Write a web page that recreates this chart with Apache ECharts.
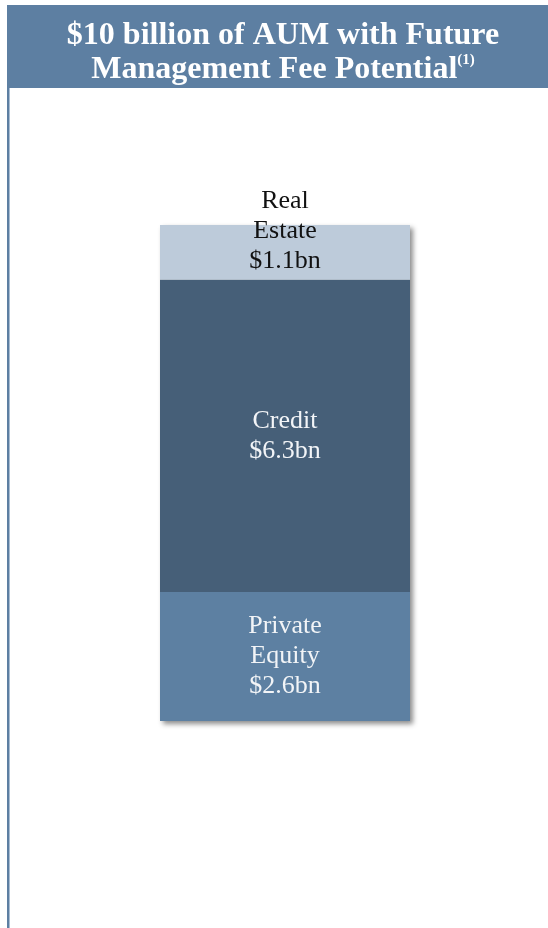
<!DOCTYPE html>
<html>
<head>
<meta charset="utf-8">
<script src="https://cdn.jsdelivr.net/npm/echarts@6/dist/echarts.min.js"></script>
<style>
  html, body { margin: 0; padding: 0; background: #ffffff; }
  #chart { width: 548px; height: 928px; }
</style>
</head>
<body>
<div id="chart"></div>
<script>
// AUM by strategy, $bn
const categories = ['AUM'];
const segmentNames = ['Private\nEquity', 'Credit', 'Real\nEstate'];
const segmentValues = [2.6, 6.3, 1.1];
const segmentColors = ['#5d80a2', '#465f78', '#bdcbda'];
const labelColors = ['#f2f4f7', '#f2f4f7', '#111111'];

const total = segmentValues.reduce((a, b) => a + b, 0);

const chart = echarts.init(document.getElementById('chart'), null, { renderer: 'canvas' });

const serif = '"Liberation Serif", "DejaVu Serif", serif';

const stackSeries = segmentValues.map((v, i) => ({
  type: 'bar',
  name: segmentNames[i],
  stack: 'aum',
  barWidth: '100%',
  barGap: '-100%',
  z: 3,
  data: [v],
  itemStyle: { color: segmentColors[i] },
  label: {
    show: true,
    position: i === 2 ? 'insideBottom' : 'inside',
    distance: 3,
    formatter: () => segmentNames[i] + '\n$' + v.toFixed(1) + 'bn',
    color: labelColors[i],
    fontFamily: serif,
    fontSize: 26,
    lineHeight: 30
  }
}));

chart.setOption({
  animation: false,
  title: {
    text: '{t|$10 billion of AUM with Future}\n{t|Management Fee Potential}{s|(1)}',
    left: 278,
    textAlign: 'center',
    top: 14,
    textStyle: {
      rich: {
        t: { color: '#ffffff', fontFamily: serif, fontWeight: 'bold', fontSize: 32, lineHeight: 34 },
        s: { color: '#ffffff', fontFamily: serif, fontWeight: 'bold', fontSize: 15, lineHeight: 34, verticalAlign: 'top', padding: [0, 0, 12, 0] }
      }
    }
  },
  graphic: [
    { type: 'rect', shape: { x: 7, y: 5, width: 541, height: 83 }, style: { fill: '#5d7fa2' }, z: 1 },
    { type: 'rect', shape: { x: 7, y: 5, width: 2, height: 923 }, style: { fill: '#5d7fa2' }, z: 1 },
    { type: 'rect', shape: { x: 9, y: 88, width: 1, height: 840 }, style: { fill: '#a9bdd2' }, z: 1 }
  ],
  grid: { left: 160, width: 250, top: 225, bottom: 207 },
  xAxis: { type: 'category', data: categories, show: false },
  yAxis: { type: 'value', min: 0, max: 10, show: false },
  series: [
    {
      type: 'bar',
      name: 'total',
      barWidth: '100%',
      barGap: '-100%',
      z: 2,
      data: [total],
      silent: true,
      itemStyle: {
        color: '#ffffff',
        shadowColor: 'rgba(0,0,0,0.45)',
        shadowBlur: 5,
        shadowOffsetX: 3,
        shadowOffsetY: 3
      }
    },
    ...stackSeries
  ]
});
</script>
</body>
</html>
